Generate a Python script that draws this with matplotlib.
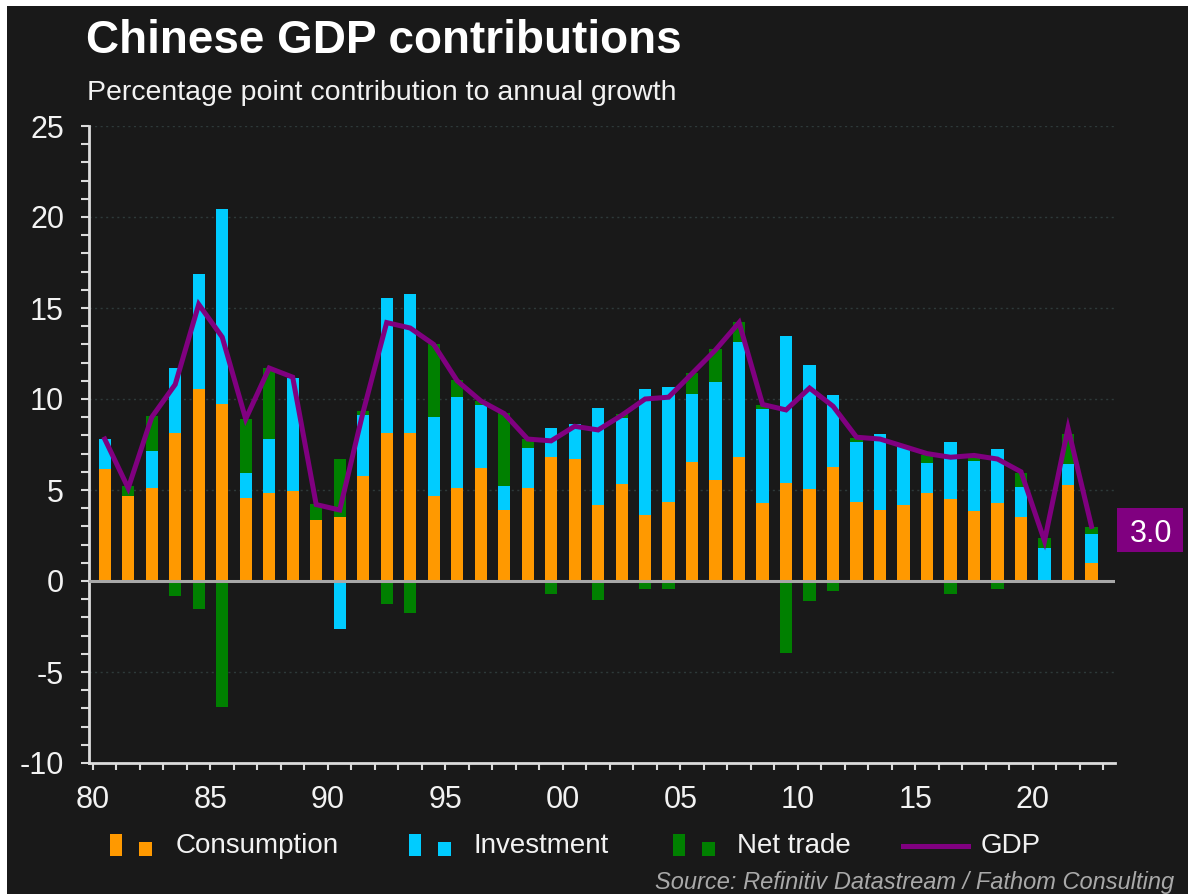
import matplotlib
matplotlib.use("Agg")
import matplotlib.pyplot as plt
from matplotlib.patches import Rectangle
from matplotlib.lines import Line2D
from matplotlib.ticker import MultipleLocator, FixedLocator
import numpy as np

years = list(range(1980, 2023))
consumption = [6.17, 4.67, 5.13, 8.15, 10.53, 9.74, 4.54, 4.85, 4.95, 3.33,
               3.52, 5.77, 8.15, 8.15, 4.67, 5.13, 6.23, 3.90, 5.13, 6.83,
               6.72, 4.18, 5.31, 3.62, 4.36, 6.54, 5.55, 6.83, 4.27, 5.40,
               5.07, 6.28, 4.36, 3.90, 4.16, 4.82, 4.50, 3.86, 4.27, 3.50,
               -0.13, 5.27, 1.00]
investment = [1.61, -0.10, 2.01, 3.57, 6.32, 10.72, 1.41, 2.97, 6.22, 0.00,
              -2.62, 3.33, 7.38, 7.60, 4.36, 4.98, 3.42, 1.32, 2.20, 1.59,
              1.89, 5.34, 3.66, 6.95, 6.30, 3.75, 5.40, 6.32, 5.20, 8.06,
              6.78, 3.92, 3.30, 4.20, 3.27, 1.68, 3.16, 2.73, 2.96, 1.68,
              1.83, 1.14, 1.56]
net_trade = [0.00, 0.55, 1.93, -0.82, -1.52, -6.92, 2.93, 3.90, 0.00, 0.92,
             3.16, 0.24, -1.28, -1.74, 3.97, 0.92, 0.24, 4.03, 0.45, -0.70,
             -0.10, -1.07, 0.19, -0.43, -0.42, 1.12, 1.78, 1.08, 0.18, -3.97,
             -1.10, -0.55, 0.18, -0.13, -0.08, 0.42, -0.73, 0.20, -0.46, 0.74,
             0.55, 1.67, 0.43]
gdp = [7.8, 5.1, 9.0, 10.8, 15.2, 13.4, 8.9, 11.7, 11.2, 4.2,
       3.9, 9.3, 14.2, 13.9, 13.0, 11.0, 9.9, 9.2, 7.8, 7.7,
       8.5, 8.3, 9.1, 10.0, 10.1, 11.4, 12.7, 14.2, 9.7, 9.4,
       10.6, 9.6, 7.9, 7.8, 7.4, 7.0, 6.8, 6.9, 6.7, 6.0,
       2.2, 8.4, 3.0]
x_tick_years = [1980, 1985, 1990, 1995, 2000, 2005, 2010, 2015, 2020]
x_tick_labels = ["80", "85", "90", "95", "00", "05", "10", "15", "20"]
y_ticks = [-10, -5, 0, 5, 10, 15, 20, 25]
series_names = ["Consumption", "Investment", "Net trade"]
last_label = "3.0"

W, H = 1188, 894
BG = "#191919"
C_CONS = "#ff9900"
C_INV = "#00ccff"
C_NET = "#008000"
C_GDP = "#800080"
TXT = "#f2f2f2"
FONT = "Liberation Sans"

plt.rcParams["font.family"] = [FONT, "DejaVu Sans"]
plt.rcParams["axes.unicode_minus"] = False

fig = plt.figure(figsize=(W / 100, H / 100), dpi=100)
fig.patch.set_facecolor("white")
fig.add_artist(Rectangle((7 / W, 0), 1 - 7 / W, 1 - 6 / H, transform=fig.transFigure,
                         facecolor=BG, edgecolor="none", zorder=0))

ax = fig.add_axes([89 / W, 1 - 763 / H, (1115 - 89) / W, (763 - 126) / H])
ax.set_facecolor(BG)

xs = np.array(years) + 0.5
bw = 0.52
pos_base = np.zeros(len(years))
neg_base = np.zeros(len(years))
for vals, col in [(consumption, C_CONS), (investment, C_INV), (net_trade, C_NET)]:
    v = np.array(vals)
    bottoms = np.where(v >= 0, pos_base, neg_base)
    ax.bar(xs, v, width=bw, bottom=bottoms, color=col, edgecolor="none", zorder=3)
    pos_base = pos_base + np.where(v >= 0, v, 0)
    neg_base = neg_base + np.where(v < 0, v, 0)

ax.plot(xs, gdp, color=C_GDP, lw=3.6, zorder=5, solid_joinstyle="miter")
ax.axhline(0, color="#a8a8a8", lw=2.2, zorder=4)

ax.set_xlim(1979.83, 2023.5)
ax.set_ylim(-10, 25)

for yv in y_ticks:
    if yv not in (0, -10):
        ax.axhline(yv, color="#2e3a3a", lw=1.0, ls=(0, (1.5, 2.5)), zorder=1)

ax.xaxis.set_major_locator(FixedLocator(x_tick_years))
ax.set_xticklabels(x_tick_labels)
ax.xaxis.set_minor_locator(MultipleLocator(1))
ax.yaxis.set_major_locator(FixedLocator(y_ticks))
ax.yaxis.set_minor_locator(MultipleLocator(1))

for s in ["top", "right"]:
    ax.spines[s].set_visible(False)
for s in ["left", "bottom"]:
    ax.spines[s].set_color("#dcdcdc")
    ax.spines[s].set_linewidth(2.0)

ax.tick_params(axis="both", which="both", colors="#dcdcdc", width=1.5, direction="out")
ax.tick_params(axis="y", which="both", length=6)
ax.tick_params(axis="x", which="both", length=5)
ax.tick_params(axis="y", which="major", labelsize=22, labelcolor=TXT, pad=12)
ax.tick_params(axis="x", which="major", labelsize=22, labelcolor=TXT, pad=11)

# Title and subtitle
fig.text(86 / W, 1 - 53 / H, "Chinese GDP contributions", color="white",
         fontsize=33, fontweight="bold", va="baseline", ha="left")
fig.text(87 / W, 1 - 100 / H, "Percentage point contribution to annual growth",
         color=TXT, fontsize=20.5, va="baseline", ha="left")

# Last value label
fig.add_artist(Rectangle((1117 / W, 1 - 552 / H), 66 / W, 44 / H, transform=fig.transFigure,
                         facecolor=C_GDP, edgecolor="none", zorder=6))
fig.text(1151 / W, 1 - 530 / H, last_label, color="white", fontsize=22,
         ha="center", va="center_baseline", zorder=7)

# Legend (Datastream-style: tall + short marker)
legend_y = 846
items = [(C_CONS, 110, series_names[0], 176),
         (C_INV, 409, series_names[1], 473),
         (C_NET, 673, series_names[2], 737)]
for col, x0, name, tx in items:
    fig.add_artist(Rectangle((x0 / W, 1 - 856 / H), 12 / W, 22 / H, transform=fig.transFigure,
                             facecolor=col, edgecolor="none"))
    fig.add_artist(Rectangle(((x0 + 29) / W, 1 - 856 / H), 13 / W, 14 / H, transform=fig.transFigure,
                             facecolor=col, edgecolor="none"))
    fig.text(tx / W, 1 - legend_y / H, name, color=TXT, fontsize=20, va="center", ha="left")
fig.add_artist(Line2D([903 / W, 968 / W], [1 - legend_y / H, 1 - legend_y / H],
                      transform=fig.transFigure, color=C_GDP, lw=3.6))
fig.text(981 / W, 1 - legend_y / H, "GDP", color=TXT, fontsize=20, va="center", ha="left")

fig.text(1174 / W, 1 - 883 / H, "Source: Refinitiv Datastream / Fathom Consulting",
         color="#a9a9a9", fontsize=17, style="italic", ha="right", va="center")

fig.savefig("out.png", dpi=100, facecolor=fig.get_facecolor())
